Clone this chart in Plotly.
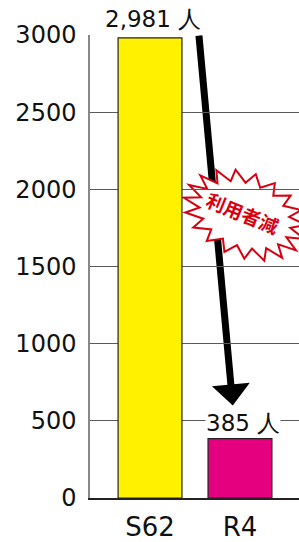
import math
import plotly.graph_objects as go

categories = ["S62", "R4"]
values = [2981, 385]
bar_colors = ["#FFF100", "#E4007F"]
value_labels = ["2,981 人", "385 人"]
y_ticks = [0, 500, 1000, 1500, 2000, 2500, 3000]
burst_text = "利用者減"

W, H = 299, 542
ML, MR, MT, MB = 90, 0, 35, 44
PW, PH = W - ML - MR, H - MT - MB
XR = [-0.667, 1.656]
YR = [0, 3000]

FONT = "DejaVu Sans, Verdana, sans-serif"


def data_to_px(x, y):
    px = ML + (x - XR[0]) / (XR[1] - XR[0]) * PW
    py = H - MB - (y - YR[0]) / (YR[1] - YR[0]) * PH
    return px, py


def px_to_paper(px, py):
    return (px - ML) / PW, (H - MB - py) / PH


fig = go.Figure()
fig.add_trace(go.Bar(
    x=categories, y=values,
    marker=dict(color=bar_colors, line=dict(color="#222222", width=1.2)),
    width=0.71, showlegend=False, hoverinfo="skip",
))

# value labels
for c, v, t, ys in zip(categories, values, value_labels, [19, 16]):
    fig.add_annotation(x=c, y=v, text=t, showarrow=False, yanchor="middle",
                       xanchor="center", yshift=ys, xshift=3,
                       font=dict(family=FONT, size=23, color="#111111"),
                       bgcolor="white", borderpad=0)

# arrow (decoration) from top of S62 bar down toward R4 bar
tail = (0.544, values[0] + 15)
tip = (0.92, 600)
tx0, ty0 = data_to_px(*tail)
tx1, ty1 = data_to_px(*tip)
dx, dy = tx1 - tx0, ty1 - ty0
L = math.hypot(dx, dy)
ux, uy = dx / L, dy / L
head_len, head_half = 21, 19
bx, by = tx1 - ux * head_len, ty1 - uy * head_len
s0 = px_to_paper(tx0, ty0)
s1 = px_to_paper(bx + ux * 3, by + uy * 3)
fig.add_shape(type="line", xref="paper", yref="paper",
              x0=s0[0], y0=s0[1], x1=s1[0], y1=s1[1],
              line=dict(color="black", width=7), layer="between")
p1 = px_to_paper(tx1, ty1)
p2 = px_to_paper(bx - uy * head_half, by + ux * head_half)
p3 = px_to_paper(bx + uy * head_half, by - ux * head_half)
fig.add_shape(type="path", xref="paper", yref="paper",
              path=f"M {p1[0]:.4f},{p1[1]:.4f} L {p2[0]:.4f},{p2[1]:.4f} L {p3[0]:.4f},{p3[1]:.4f} Z",
              fillcolor="black", line=dict(color="black", width=0), layer="between")

# starburst (decoration)
cx, cy = 245, 215
a, b = 64, 42
rot = math.radians(22)
n = 19
pts = []
for i in range(2 * n):
    ang = math.pi * i / n
    r = 1.0 if i % 2 == 0 else 0.74
    ex, ey = a * r * math.cos(ang), b * r * math.sin(ang)
    px = cx + ex * math.cos(rot) - ey * math.sin(rot)
    py = cy + ex * math.sin(rot) + ey * math.cos(rot)
    pts.append(px_to_paper(px, py))
path = "M " + " L ".join(f"{x:.4f},{y:.4f}" for x, y in pts) + " Z"
fig.add_shape(type="path", path=path, xref="paper", yref="paper",
              fillcolor="white", line=dict(color="#D7000F", width=2), layer="between")

bx_t, by_t = px_to_paper(243, 212)
fig.add_annotation(x=bx_t, y=by_t, xref="paper", yref="paper", text=f"<b>{burst_text}</b>",
                   showarrow=False, textangle=22, xanchor="center", yanchor="middle",
                   font=dict(family="Noto Sans CJK JP", size=19, color="#D7000F"))

fig.update_layout(
    width=W, height=H, margin=dict(l=ML, r=MR, t=MT, b=MB, autoexpand=False),
    paper_bgcolor="white", plot_bgcolor="white",
    xaxis=dict(range=XR, showgrid=False, showline=True, automargin=False,
               linecolor="#222222", linewidth=1.5, ticks="", ticklabelstandoff=5,
               tickfont=dict(family=FONT, size=26, color="#111111"), fixedrange=True),
    yaxis=dict(range=YR, tickvals=y_ticks, showgrid=True, gridcolor="#5a5a5a",
               gridwidth=1.4, showline=True, linecolor="#888888", linewidth=1.5,
               zeroline=False, ticks="", ticklabelstandoff=7, automargin=False,
               tickfont=dict(family=FONT, size=24, color="#111111"), fixedrange=True),
)

fig.write_html("out.html", config={"displayModeBar": False},
               post_script="document.body.style.margin='0';document.body.style.overflow='hidden';")
